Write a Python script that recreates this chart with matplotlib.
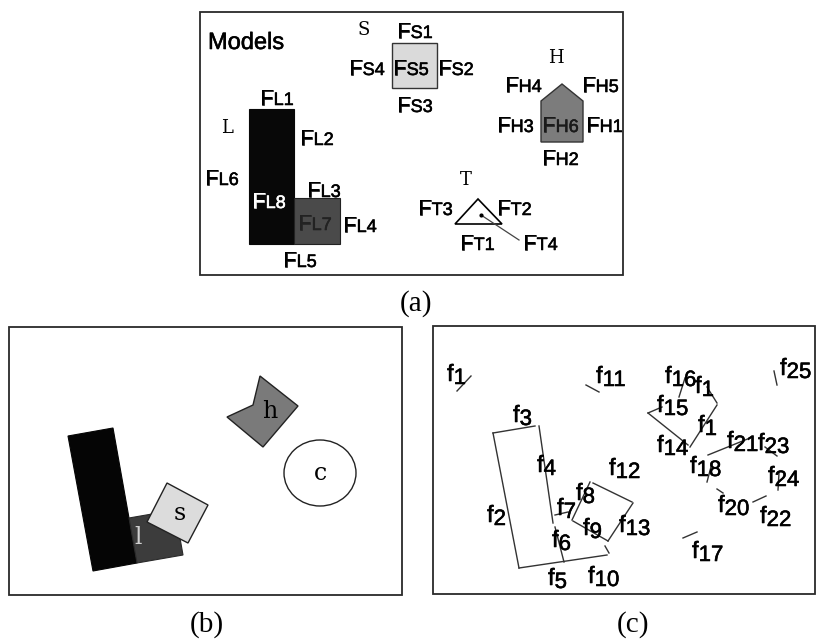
import matplotlib
matplotlib.use("Agg")
import matplotlib.pyplot as plt
import matplotlib.patheffects as pe
from matplotlib.patches import Polygon, Rectangle, Ellipse

SANS = "Liberation Sans"
SERIF = "Liberation Serif"
MONO = "DejaVu Serif"

# panel frames: left, top, right, bottom (pixels)
frames = [(200, 12, 623, 275), (9, 327, 402, 595), (433, 326, 815, 594)]
captions = [("(a)", 416, 304), ("(b)", 207, 625), ("(c)", 633, 625)]

# ---- panel (a): models
shape_S = [(392, 43), (437, 43), (437, 88), (392, 88)]
shape_H = [(562, 84), (583, 101), (583, 142), (541, 142), (541, 101)]
shape_L_tall = [(249, 109), (294, 109), (294, 244), (249, 244)]
shape_L_foot = [(294, 198), (340, 198), (340, 244), (294, 244)]
shape_T = [(478, 199), (502, 224), (455, 224)]
T_pointer = [(481, 215), (519, 240)]

model_names = [("S", 358, 35), ("H", 548, 63), ("L", 221, 133), ("T", 460, 185)]

# feature labels: main, subscript, x, baseline, colour
feature_labels = [
    ("F", "S1", 397, 38, "black"), ("F", "S4", 349, 75, "black"),
    ("F", "S5", 393, 75, "black"), ("F", "S2", 438, 75, "black"),
    ("F", "S3", 397, 112, "black"),
    ("F", "H4", 505, 92, "black"), ("F", "H5", 582, 92, "black"),
    ("F", "H3", 497, 132, "black"), ("F", "H6", 542, 132, "#1a1a1a"),
    ("F", "H1", 586, 132, "black"), ("F", "H2", 542, 165, "black"),
    ("F", "T3", 418, 215, "black"), ("F", "T2", 497, 215, "black"),
    ("F", "T1", 460, 250, "black"), ("F", "T4", 523, 250, "black"),
    ("F", "L1", 260, 105, "black"), ("F", "L2", 300, 145, "black"),
    ("F", "L6", 205, 185, "black"), ("F", "L8", 252, 208, "white"),
    ("F", "L3", 307, 197, "black"), ("F", "L7", 298, 230, "#222222"),
    ("F", "L4", 343, 232, "black"), ("F", "L5", 283, 267, "black"),
]

# ---- panel (b): scene
scene_L_tall = [(68, 436), (113, 428), (137, 563), (93, 571)]
scene_L_foot = [(129, 518), (175, 510), (183, 555), (137, 563)]
scene_s = [(167, 483), (208, 505), (188, 543), (147, 522)]
scene_h = [(260, 376), (298, 406), (263, 447), (227, 417), (253, 405)]
scene_c = (320, 473, 72, 66)
scene_names = [("h", 270, 412, "black"), ("s", 180, 513, "black"),
               ("l", 138, 537, "#d0d0d0"), ("c", 320, 473, "black")]

# ---- panel (c): extracted image features
segments = [
    ((457, 391), (471, 376)), ((586, 385), (599, 392)), ((774, 371), (777, 385)),
    ((493, 433), (535, 426)), ((493, 433), (519, 568)), ((539, 426), (553, 523)),
    ((555, 527), (564, 562)), ((519, 568), (607, 555)), ((605, 546), (609, 553)),
    ((555, 515), (568, 512)), ((590, 482), (572, 520)), ((573, 521), (608, 541)),
    ((608, 541), (633, 503)), ((593, 483), (632, 502)), ((685, 378), (679, 397)),
    ((707, 387), (717, 403)), ((717, 405), (690, 447)), ((648, 413), (662, 407)),
    ((648, 413), (688, 445)), ((708, 455), (750, 438)), ((712, 463), (707, 482)),
    ((717, 489), (723, 493)), ((765, 447), (777, 456)), ((779, 473), (778, 490)),
    ((753, 502), (766, 496)), ((683, 538), (697, 532)),
]
image_labels = [
    ("1", 447, 381), ("11", 596, 383), ("25", 780, 375), ("3", 513, 422),
    ("2", 487, 522), ("4", 537, 472), ("6", 552, 547), ("5", 548, 585),
    ("10", 588, 583), ("7", 557, 515), ("8", 576, 500), ("9", 583, 535),
    ("13", 619, 532), ("12", 609, 475), ("16", 665, 383), ("1", 695, 393),
    ("15", 657, 412), ("1", 698, 432), ("14", 657, 452), ("21", 727, 448),
    ("18", 690, 473), ("20", 718, 512), ("23", 758, 450), ("24", 768, 483),
    ("22", 760, 523), ("17", 692, 558),
]


def sub_text(ax, renderer, x, y, main, sub, size, sub_size, drop, color):
    # scanned lettering is a bit heavier than the plain font
    fx = [pe.withStroke(linewidth=0.4, foreground=color)]
    t = ax.text(x, y, main, fontsize=size, family=SANS, color=color,
                ha="left", va="baseline", path_effects=fx)
    w = t.get_window_extent(renderer).width
    ax.text(x + w, y + drop, sub, fontsize=sub_size, family=SANS, color=color,
            ha="left", va="baseline", path_effects=fx)


fig = plt.figure(figsize=(8.17, 6.40), dpi=100)
ax = fig.add_axes([0, 0, 1, 1])
ax.set_xlim(0, 817)
ax.set_ylim(640, 0)
ax.axis("off")
renderer = fig.canvas.get_renderer()

for (l, t, r, b) in frames:
    ax.add_patch(Rectangle((l, t), r - l, b - t, fill=False, edgecolor="#2a2a2a", linewidth=1.3))
for (txt, x, y) in captions:
    ax.text(x, y, txt, fontsize=21, family=SERIF, ha="center", va="center")

# panel (a)
ax.text(208, 49, "Models", fontsize=17, family=SANS, ha="left", va="baseline",
        path_effects=[pe.withStroke(linewidth=0.4, foreground="black")])
ax.add_patch(Polygon(shape_S, closed=True, facecolor="#dadada", edgecolor="#333333", linewidth=1))
ax.add_patch(Polygon(shape_H, closed=True, facecolor="#7c7c7c", edgecolor="#333333", linewidth=1))
ax.add_patch(Polygon(shape_L_tall, closed=True, facecolor="#080808", edgecolor="#080808", linewidth=0.8))
ax.add_patch(Polygon(shape_L_foot, closed=True, facecolor="#4a4a4a", edgecolor="#222222", linewidth=0.8))
ax.add_patch(Polygon(shape_T, closed=True, facecolor="white", edgecolor="black", linewidth=1.2))
ax.plot([p[0] for p in T_pointer], [p[1] for p in T_pointer], color="#444444", linewidth=0.9)
ax.plot(T_pointer[0][0], T_pointer[0][1], "o", color="black", markersize=2)
for (name, x, y) in model_names:
    ax.text(x, y, name, fontsize=13, family=MONO, ha="left", va="baseline")
for (m, s, x, y, c) in feature_labels:
    sub_text(ax, renderer, x, y, m, s, 16, 13, 0, c)

# panel (b)
ax.add_patch(Polygon(scene_L_tall, closed=True, facecolor="#050505", edgecolor="#050505", linewidth=0.8))
ax.add_patch(Polygon(scene_L_foot, closed=True, facecolor="#3c3c3c", edgecolor="#2a2a2a", linewidth=0.8))
ax.add_patch(Polygon(scene_s, closed=True, facecolor="#dcdcdc", edgecolor="#222222", linewidth=1))
ax.add_patch(Polygon(scene_h, closed=True, facecolor="#7a7a7a", edgecolor="#222222", linewidth=1))
cx, cy, cw, ch = scene_c
ax.add_patch(Ellipse((cx, cy), cw, ch, facecolor="white", edgecolor="#222222", linewidth=1))
for (name, x, y, c) in scene_names:
    ax.text(x, y, name, fontsize=17, family=MONO, color=c, ha="center", va="center")

# panel (c)
for (p, q) in segments:
    ax.plot([p[0], q[0]], [p[1], q[1]], color="#333333", linewidth=1)
for (s, x, y) in image_labels:
    sub_text(ax, renderer, x, y, "f", s, 17, 16, 3, "black")

fig.savefig("out.png", dpi=100)
